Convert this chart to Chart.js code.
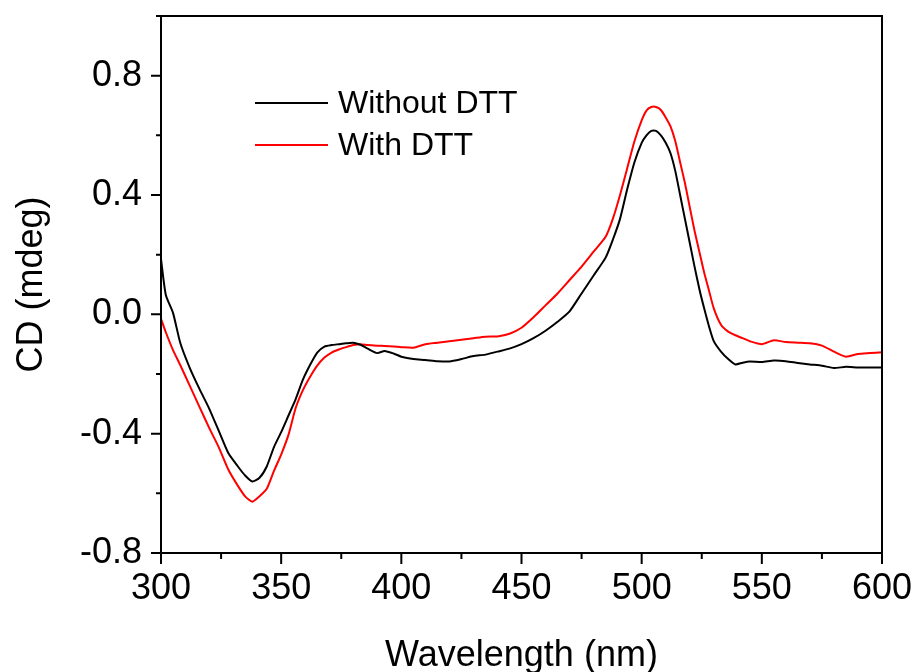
<!DOCTYPE html>
<html>
<head>
<meta charset="utf-8">
<script src="https://cdn.jsdelivr.net/npm/chart.js@4.4.1/dist/chart.umd.min.js"></script>
<style>
  html, body { margin: 0; padding: 0; background: #fff; }
</style>
</head>
<body>
<canvas id="cdChart" width="918" height="672"></canvas>
<script>
// wavelengths (nm)
const wavelengths = [300, 302, 305, 308, 312, 316, 320, 324, 328, 332, 335, 338, 341, 344, 347, 350, 353, 356, 359, 362, 365, 368, 371, 374, 377, 380, 383, 386, 390, 393, 397, 400, 405, 410, 415, 420, 425, 430, 435, 440, 445, 450, 455, 460, 465, 470, 475, 480, 485, 488, 491, 494, 497, 500, 502, 504, 506, 508, 510, 512, 514, 516, 518, 520, 522, 524, 526, 528, 530, 533, 536, 539, 542, 545, 550, 555, 560, 565, 570, 575, 580, 585, 590, 595, 600];

// CD signal (mdeg)
const withoutDTT = [0.185, 0.065, 0.005, -0.095, -0.18, -0.25, -0.315, -0.39, -0.465, -0.51, -0.54, -0.56, -0.548, -0.51, -0.445, -0.395, -0.34, -0.285, -0.22, -0.17, -0.128, -0.108, -0.103, -0.1, -0.097, -0.095, -0.102, -0.115, -0.13, -0.123, -0.132, -0.142, -0.15, -0.153, -0.157, -0.158, -0.15, -0.14, -0.135, -0.125, -0.115, -0.1, -0.08, -0.055, -0.025, 0.01, 0.07, 0.13, 0.19, 0.25, 0.32, 0.42, 0.51, 0.575, 0.6, 0.615, 0.615, 0.6, 0.575, 0.54, 0.48, 0.4, 0.32, 0.24, 0.16, 0.085, 0.02, -0.04, -0.09, -0.125, -0.15, -0.168, -0.162, -0.158, -0.16, -0.155, -0.157, -0.163, -0.168, -0.172, -0.18, -0.176, -0.178, -0.178, -0.178];

const withDTT = [-0.015, -0.06, -0.12, -0.17, -0.24, -0.31, -0.38, -0.445, -0.52, -0.575, -0.61, -0.628, -0.61, -0.585, -0.525, -0.47, -0.405, -0.315, -0.255, -0.21, -0.172, -0.145, -0.128, -0.118, -0.11, -0.103, -0.1, -0.103, -0.105, -0.106, -0.108, -0.11, -0.112, -0.1, -0.095, -0.09, -0.085, -0.08, -0.075, -0.074, -0.065, -0.045, -0.01, 0.03, 0.07, 0.115, 0.16, 0.21, 0.26, 0.32, 0.4, 0.49, 0.58, 0.65, 0.683, 0.695, 0.695, 0.685, 0.66, 0.63, 0.58, 0.51, 0.44, 0.36, 0.28, 0.21, 0.14, 0.08, 0.02, -0.035, -0.058, -0.07, -0.08, -0.09, -0.1, -0.087, -0.093, -0.095, -0.097, -0.105, -0.125, -0.142, -0.133, -0.13, -0.127];

// axis ticks
const xMajorTicks = [300, 350, 400, 450, 500, 550, 600];
const xMinorTicks = [325, 375, 425, 475, 525, 575];
const yMajorTicks = [-0.8, -0.4, 0.0, 0.4, 0.8];
const yMinorTicks = [-0.6, -0.2, 0.2, 0.6, 1.0];

const FONT = 'Arial, "Liberation Sans", sans-serif';
Chart.defaults.font.family = FONT;
Chart.defaults.color = '#000';

const toPoints = ys => wavelengths.map((x, i) => ({ x: x, y: ys[i] }));

// frame, ticks and legend drawn on top
const framePlugin = {
  id: 'frame',
  afterDraw(chart) {
    const ctx = chart.ctx;
    const a = chart.chartArea;
    const xs = chart.scales.x;
    const ys = chart.scales.y;
    ctx.save();
    ctx.strokeStyle = '#000';
    ctx.lineWidth = 2;
    ctx.strokeRect(a.left, a.top, a.right - a.left, a.bottom - a.top);
    ctx.beginPath();
    xMajorTicks.forEach(v => {
      const px = xs.getPixelForValue(v);
      ctx.moveTo(px, a.bottom); ctx.lineTo(px, a.bottom + 11);
    });
    xMinorTicks.forEach(v => {
      const px = xs.getPixelForValue(v);
      ctx.moveTo(px, a.bottom); ctx.lineTo(px, a.bottom + 6);
    });
    yMajorTicks.forEach(v => {
      const py = ys.getPixelForValue(v);
      ctx.moveTo(a.left, py); ctx.lineTo(a.left - 10, py);
    });
    yMinorTicks.forEach(v => {
      const py = ys.getPixelForValue(v);
      ctx.moveTo(a.left, py); ctx.lineTo(a.left - 5, py);
    });
    ctx.stroke();

    // legend
    ctx.font = '32px ' + FONT;
    ctx.textBaseline = 'middle';
    chart.data.datasets.forEach((ds, i) => {
      const y = 103 + i * 42;
      ctx.strokeStyle = ds.borderColor;
      ctx.lineWidth = 2;
      ctx.beginPath();
      ctx.moveTo(255, y); ctx.lineTo(328, y);
      ctx.stroke();
      ctx.fillStyle = '#000';
      ctx.fillText(ds.label, 338, y + 1);
    });
    ctx.restore();
  }
};

new Chart(document.getElementById('cdChart'), {
  type: 'line',
  data: {
    datasets: [{
      label: 'Without DTT',
      data: toPoints(withoutDTT),
      borderColor: '#000000',
      borderWidth: 2,
      pointRadius: 0,
      tension: 0.2
    }, {
      label: 'With DTT',
      data: toPoints(withDTT),
      borderColor: '#ff0000',
      borderWidth: 2,
      pointRadius: 0,
      tension: 0.2
    }]
  },
  options: {
    responsive: false,
    animation: false,
    layout: { padding: { top: 16, right: 36, left: 0, bottom: 0 } },
    plugins: {
      legend: { display: false },
      tooltip: { enabled: false }
    },
    scales: {
      x: {
        type: 'linear',
        min: 300,
        max: 600,
        afterBuildTicks: s => { s.ticks = xMajorTicks.map(v => ({ value: v })); },
        afterFit: s => { s.height = 119; s.paddingLeft = 0; s.paddingRight = 0; },
        grid: { display: false, drawTicks: false },
        border: { display: false },
        ticks: { font: { size: 36 }, padding: 14, maxRotation: 0 },
        title: {
          display: true,
          text: 'Wavelength (nm)',
          font: { size: 36 },
          padding: { top: 0, bottom: -6 }
        }
      },
      y: {
        min: -0.8,
        max: 1.0,
        afterBuildTicks: s => { s.ticks = yMajorTicks.map(v => ({ value: v })); },
        afterFit: s => { s.width = 161; s.paddingTop = 0; s.paddingBottom = 0; },
        grid: { display: false, drawTicks: false },
        border: { display: false },
        ticks: {
          font: { size: 36 },
          padding: 19,
          callback: v => v.toFixed(1)
        },
        title: {
          display: true,
          text: 'CD (mdeg)',
          font: { size: 36 },
          padding: { top: 10, bottom: 0 }
        }
      }
    }
  },
  plugins: [framePlugin]
});
</script>
</body>
</html>
